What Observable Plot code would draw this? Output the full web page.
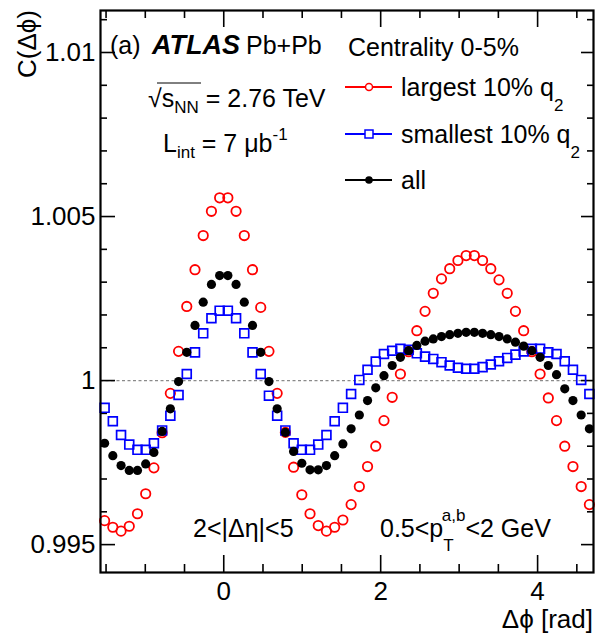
<!DOCTYPE html>
<html><head><meta charset="utf-8">
<script src="https://cdn.jsdelivr.net/npm/d3@7"></script>
<script src="https://cdn.jsdelivr.net/npm/@observablehq/plot@0.6"></script>
<style>body{margin:0;background:#fff} svg{display:block}</style>
</head><body><div id="chart"></div>
<script>
// 60 bins in delta-phi from -pi/2 to 3pi/2
const nBins = 60;
const dphi = d3.range(nBins).map(i => -Math.PI / 2 + (i + 0.5) * 2 * Math.PI / nBins);

// largest 10% q2 (red open circles)
const largest = [
  0.99573, 0.99553, 0.99541, 0.99556, 0.99594, 0.99655, 0.99734, 0.99841, 0.99961, 1.00089,
  1.00226, 1.00338, 1.00442, 1.00516, 1.00557, 1.00557, 1.00516, 1.00442, 1.00338, 1.00223,
  1.00089, 0.99961, 0.99842, 0.99736, 0.99652, 0.99594, 0.99558, 0.99541, 0.99553, 0.99575,
  0.99622, 0.99677, 0.99738, 0.99800, 0.99878, 0.99949, 1.00020, 1.00088, 1.00152, 1.00211,
  1.00266, 1.00310, 1.00341, 1.00366, 1.00381, 1.00381, 1.00366, 1.00341, 1.00307, 1.00266,
  1.00211, 1.00152, 1.00088, 1.00020, 0.99947, 0.99878, 0.99800, 0.99738, 0.99677, 0.99622
];
// smallest 10% q2 (blue open squares)
const smallest = [
  0.99917, 0.99876, 0.99834, 0.99805, 0.99789, 0.99789, 0.99809, 0.99848, 0.99893, 0.99956,
  1.00020, 1.00086, 1.00144, 1.00190, 1.00213, 1.00213, 1.00190, 1.00144, 1.00086, 1.00020,
  0.99954, 0.99893, 0.99848, 0.99809, 0.99789, 0.99789, 0.99805, 0.99834, 0.99876, 0.99917,
  0.99959, 1.00002, 1.00033, 1.00058, 1.00081, 1.00091, 1.00097, 1.00094, 1.00083, 1.00073,
  1.00066, 1.00056, 1.00046, 1.00039, 1.00036, 1.00036, 1.00041, 1.00049, 1.00059, 1.00069,
  1.00079, 1.00089, 1.00097, 1.00097, 1.00086, 1.00081, 1.00059, 1.00033, 1.00002, 0.99959
];
// all (black filled circles)
const all = [
  0.99809, 0.99771, 0.99741, 0.99726, 0.99726, 0.99746, 0.99781, 0.99845, 0.99914, 0.99997,
  1.00086, 1.00168, 1.00239, 1.00293, 1.00320, 1.00320, 1.00293, 1.00239, 1.00168, 1.00086,
  0.99997, 0.99914, 0.99842, 0.99784, 0.99748, 0.99728, 0.99728, 0.99741, 0.99771, 0.99807,
  0.99853, 0.99895, 0.99939, 0.99978, 1.00015, 1.00046, 1.00071, 1.00091, 1.00107, 1.00120,
  1.00127, 1.00134, 1.00140, 1.00144, 1.00147, 1.00147, 1.00144, 1.00140, 1.00134, 1.00127,
  1.00117, 1.00105, 1.00091, 1.00071, 1.00046, 1.00018, 0.99975, 0.99939, 0.99895, 0.99853
];

const xMajorTicks = [0, 2, 4];
const xMinorTicks = [-1.5, -1, -0.5, 0.5, 1, 1.5, 2.5, 3, 3.5, 4.5];
const yMajorTicks = [0.995, 1, 1.005, 1.01];
const yMinorTicks = [0.996, 0.997, 0.998, 0.999, 1.001, 1.002, 1.003, 1.004, 1.006, 1.007, 1.008, 1.009, 1.011];

const seriesNames = ["largest 10% q", "smallest 10% q", "all"];
const seriesColors = ["#ff0000", "#0000ff", "#000000"];

const rows = (vals) => vals.map((v, i) => ({x: dphi[i], y: v}));

const W = 597, H = 635;
const mL = 100, mR = 4, mT = 10, mB = 63;
const innerW = W - mL - mR, innerH = H - mT - mB;
const FONT = "'Liberation Sans', Arial, Helvetica, sans-serif";
const FS = 25;

const chart = Plot.plot({
  width: W, height: H,
  marginLeft: mL, marginRight: mR, marginTop: mT, marginBottom: mB,
  style: {fontFamily: FONT, fontSize: "26px", background: "white", color: "black"},
  x: {domain: [-Math.PI / 2, 3 * Math.PI / 2]},
  y: {domain: [0.99415, 1.01128]},
  marks: [
    Plot.ruleY([1], {stroke: "#8a8a8a", strokeWidth: 1.2, strokeDasharray: "3,2.5"}),
    // ticks inside frame
    Plot.tickX(xMajorTicks, {x: d => d, insetTop: innerH - 17, stroke: "black", strokeWidth: 1.6}),
    Plot.tickX(xMinorTicks, {x: d => d, insetTop: innerH - 8, stroke: "black", strokeWidth: 1.6}),
    Plot.tickX(xMajorTicks, {x: d => d, insetBottom: innerH - 17, stroke: "black", strokeWidth: 1.6}),
    Plot.tickX(xMinorTicks, {x: d => d, insetBottom: innerH - 8, stroke: "black", strokeWidth: 1.6}),
    Plot.tickY(yMajorTicks, {y: d => d, insetRight: innerW - 15, stroke: "black", strokeWidth: 1.6}),
    Plot.tickY(yMinorTicks, {y: d => d, insetRight: innerW - 7, stroke: "black", strokeWidth: 1.6}),
    Plot.tickY(yMajorTicks, {y: d => d, insetLeft: innerW - 12, stroke: "black", strokeWidth: 1.6}),
    Plot.tickY(yMinorTicks, {y: d => d, insetLeft: innerW - 6, stroke: "black", strokeWidth: 1.6}),
    Plot.axisX(xMajorTicks, {tickSize: 0, tickPadding: 9, label: null, fontSize: 26, tickFormat: d => String(d)}),
    Plot.axisY(yMajorTicks, {tickSize: 0, tickPadding: 5, label: null, fontSize: 26, tickFormat: d => String(+d.toFixed(3))}),
    // data
    Plot.dot(rows(largest), {x: "x", y: "y", r: 4.7, stroke: seriesColors[0], strokeWidth: 1.8, fill: "none"}),
    Plot.dot(rows(smallest), {x: "x", y: "y", r: 5.0, symbol: "square", stroke: seriesColors[1], strokeWidth: 1.7, fill: "none"}),
    Plot.dot(rows(all), {x: "x", y: "y", r: 4.6, fill: seriesColors[2], stroke: "none"}),
    Plot.frame({stroke: "black", strokeWidth: 2.2})
  ]
});

document.getElementById("chart").appendChild(chart);
const svg = d3.select(chart);

function txt(x, y, opts = {}) {
  return svg.append("text").attr("x", x).attr("y", y)
    .attr("font-family", FONT).attr("font-size", opts.size || FS)
    .attr("fill", "black").attr("text-anchor", opts.anchor || "start");
}

// axis titles
txt(0, 0, {anchor: "end", size: 26}).attr("transform", `translate(36,${mT}) rotate(-90)`).text("C(Δϕ)");
txt(W - 4, 628, {anchor: "end", size: 26}).text("Δϕ [rad]");

// top-left labels
txt(110, 54).text("(a)");
txt(152, 54, {size: 27}).attr("font-weight", "bold").attr("font-style", "italic").text("ATLAS");
txt(246, 54).text("Pb+Pb");
txt(348, 56).text("Centrality 0-5%");

const t1 = txt(148, 107);
t1.append("tspan").text("√");
t1.append("tspan").text("s");
t1.append("tspan").attr("font-size", 17).attr("dy", 6).text("NN");
t1.append("tspan").attr("dy", -6).text(" = 2.76 TeV");
svg.append("line").attr("x1", 157).attr("x2", 201).attr("y1", 83).attr("y2", 83)
  .attr("stroke", "black").attr("stroke-width", 1);

const t2 = txt(163, 152);
t2.append("tspan").text("L");
t2.append("tspan").attr("font-size", 17).attr("dy", 6).text("int");
t2.append("tspan").attr("dy", -6).text(" = 7 μb");
t2.append("tspan").attr("font-size", 17).attr("dy", -12).text("-1");

// legend
const legY = [87, 134, 180];
seriesNames.forEach((name, k) => {
  const y = legY[k];
  svg.append("line").attr("x1", 345).attr("x2", 392).attr("y1", y).attr("y2", y)
    .attr("stroke", seriesColors[k]).attr("stroke-width", 2);
  const t = txt(401, y + 9).text(name);
  if (k < 2) t.append("tspan").attr("font-size", 17).attr("dy", 15).text("2");
});
svg.append("circle").attr("cx", 369).attr("cy", legY[0]).attr("r", 3.5)
  .attr("fill", "white").attr("stroke", seriesColors[0]).attr("stroke-width", 1.5);
svg.append("rect").attr("x", 365).attr("y", legY[1] - 4).attr("width", 8).attr("height", 8)
  .attr("fill", "white").attr("stroke", seriesColors[1]).attr("stroke-width", 1.5);
svg.append("circle").attr("cx", 369).attr("cy", legY[2]).attr("r", 3.8).attr("fill", "black");

// bottom labels
txt(193, 537).text("2<|Δη|<5");
const t3 = txt(380, 537);
t3.append("tspan").text("0.5<p");
t3.append("tspan").attr("font-size", 17).attr("dy", 14).text("T");
t3.append("tspan").attr("font-size", 17).attr("dx", -10).attr("dy", -30).text("a,b");
t3.append("tspan").attr("dy", 16).text("<2 GeV");
</script>
</body></html>
